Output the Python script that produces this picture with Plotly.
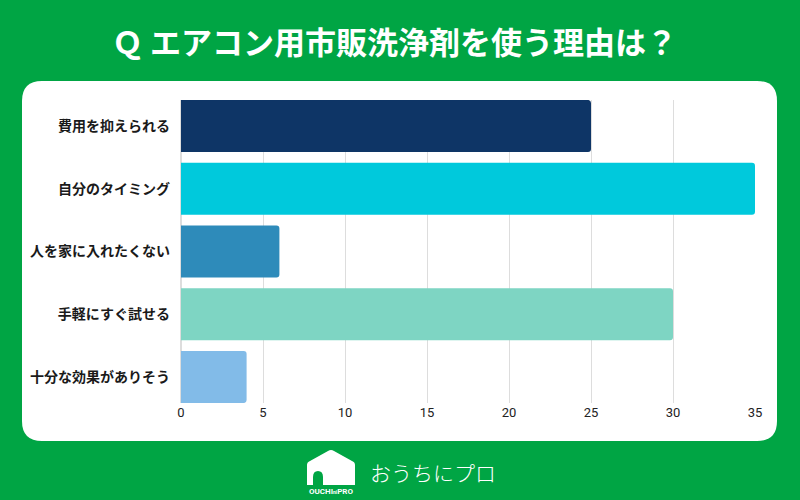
import plotly.graph_objects as go

# data
reasons = ["費用を抑えられる", "自分のタイミング", "人を家に入れたくない", "手軽にすぐ試せる", "十分な効果がありそう"]
counts = [25, 35, 6, 30, 4]
bar_colors = ["#0e3566", "#00c9dc", "#2e8bba", "#7ed5c3", "#82bbe8"]
x_ticks = [0, 5, 10, 15, 20, 25, 30, 35]

title_text = "Ｑ エアコン用市販洗浄剤を使う理由は？"
brand = "おうちにプロ"

W, H = 800, 500
L, R, T, B = 181, 45, 100, 97
GREEN = "#00a544"


def px(x):
    return (x - L) / (W - L - R)


def py(y):
    return 1 - (y - T) / (H - T - B)


def rounded_rect(x0, y0, x1, y1, r):
    # pixel coords -> paper path with rounded corners
    pts = [
        f"M{px(x0 + r)},{py(y0)}",
        f"L{px(x1 - r)},{py(y0)}",
        f"Q{px(x1)},{py(y0)} {px(x1)},{py(y0 + r)}",
        f"L{px(x1)},{py(y1 - r)}",
        f"Q{px(x1)},{py(y1)} {px(x1 - r)},{py(y1)}",
        f"L{px(x0 + r)},{py(y1)}",
        f"Q{px(x0)},{py(y1)} {px(x0)},{py(y1 - r)}",
        f"L{px(x0)},{py(y0 + r)}",
        f"Q{px(x0)},{py(y0)} {px(x0 + r)},{py(y0)}",
        "Z",
    ]
    return " ".join(pts)


def house_path():
    # house silhouette with an arched door notch
    p = [
        f"M{px(307)},{py(485)}",
        f"L{px(307)},{py(465)}",
        f"Q{px(307)},{py(462)} {px(310)},{py(461)}",
        f"L{px(328)},{py(451)}",
        f"Q{px(331)},{py(449)} {px(334)},{py(451)}",
        f"L{px(352)},{py(461)}",
        f"Q{px(355)},{py(462)} {px(355)},{py(465)}",
        f"L{px(355)},{py(485)}",
        f"L{px(323)},{py(485)}",
        f"L{px(323)},{py(477)}",
        f"Q{px(323)},{py(471)} {px(318)},{py(471)}",
        f"Q{px(313)},{py(471)} {px(313)},{py(477)}",
        f"L{px(313)},{py(485)}",
        "Z",
    ]
    return " ".join(p)


fig = go.Figure()
fig.add_trace(go.Bar(
    x=counts, y=reasons, orientation="h",
    marker=dict(color=bar_colors, cornerradius=3, line=dict(width=0)),
    hoverinfo="x+y",
))

fig.update_layout(
    width=W, height=H,
    paper_bgcolor=GREEN, plot_bgcolor="rgba(0,0,0,0)",
    margin=dict(l=L, r=R, t=T, b=B),
    bargap=0.171,
    showlegend=False,
    font=dict(family="Noto Sans CJK JP", color="#222222"),
    xaxis=dict(
        range=[0, 35], tickvals=x_ticks, showgrid=True, gridcolor="#dddddd",
        gridwidth=1, zeroline=True, zerolinecolor="#dddddd", ticks="",
        tickfont=dict(size=13, color="#222222", family="Roboto"),
        fixedrange=True,
    ),
    yaxis=dict(
        range=[4.414, -0.414], ticks="", ticklabelstandoff=10,
        tickfont=dict(size=14, color="#1a1a1a", family="Noto Sans CJK JP", weight="bold"),
        showgrid=False, fixedrange=True,
    ),
    shapes=[
        dict(type="path", xref="paper", yref="paper", layer="below",
             path=rounded_rect(22, 81, 777, 441, 20),
             fillcolor="white", line=dict(width=0)),
        dict(type="path", xref="paper", yref="paper",
             path=house_path(), fillcolor="white", line=dict(width=0)),
    ],
    annotations=[
        dict(text=title_text, x=px(W / 2 - 6), xref="paper", y=py(40), yref="paper",
             xanchor="center", yanchor="middle", showarrow=False,
             font=dict(size=31, color="white", family="Noto Sans CJK JP", weight="bold")),
        dict(text=brand, x=px(368), xref="paper", y=py(472), yref="paper",
             xanchor="left", yanchor="middle", showarrow=False,
             font=dict(size=21, color="white", family="Noto Sans CJK JP", weight=300)),
        dict(text="OUCHI<span style='font-size:5px'>ni</span>PRO", x=px(331), xref="paper",
             y=py(491), yref="paper", xanchor="center", yanchor="middle", showarrow=False,
             font=dict(size=8, color="white", family="Roboto", weight="bold")),
    ],
)

fig.write_html("out.html", config={"displayModeBar": False},
               post_script="document.body.style.margin='0';")
